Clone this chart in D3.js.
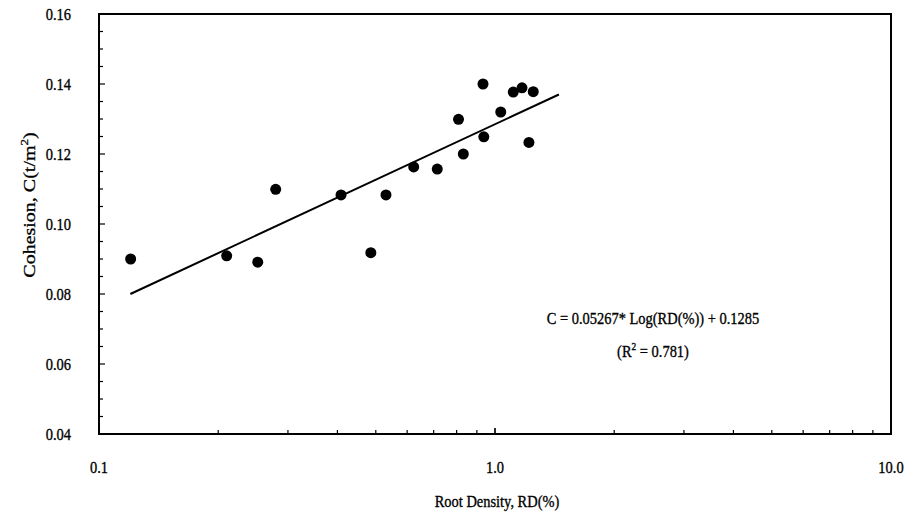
<!DOCTYPE html>
<html><head><meta charset="utf-8">
<script src="https://cdn.jsdelivr.net/npm/d3@7"></script>
<style>body{margin:0;background:#fff}text{font-family:"Liberation Serif","Times New Roman",serif;fill:#000;stroke:#000;stroke-width:0.35}</style>
</head><body><svg id="c" width="917" height="513"></svg>
<script>
const rootDensity = [0.1202,0.2101,0.2517,0.2794,0.4085,0.4858,0.5305,0.6233,0.7148,0.8088,0.8318,0.937,0.9326,1.034,1.112,1.170,1.218,1.249];
const cohesion    = [0.0900,0.0909,0.0891,0.1099,0.1083,0.0918,0.1083,0.1163,0.1157,0.1299,0.1200,0.1249,0.1400,0.1320,0.1377,0.1389,0.1233,0.1378];
const trendX = [0.12, 1.45];
const trendY = [0.0800, 0.1370];
const xTicks = [0.1, 1, 10];
const xTickLabels = ["0.1", "1.0", "10.0"];
const yTicks = [0.04, 0.06, 0.08, 0.10, 0.12, 0.14, 0.16];
const equationText = "C = 0.05267* Log(RD(%)) + 0.1285";

const svg = d3.select("#c");
const L=99, R=891, T=14, B=434;
const SX = 0.85; // condensed look of the scanned type
const x = d3.scaleLog().domain([0.1,10]).range([L,R]);
const y = d3.scaleLinear().domain([0.04,0.16]).range([B,T]);

function label(px, py, anchor, size){
  return svg.append("g").attr("transform",`translate(${px},${py}) scale(${SX},1)`)
    .append("text").attr("text-anchor",anchor).attr("font-size",size);
}

// frame
svg.append("rect").attr("x",L).attr("y",T).attr("width",R-L).attr("height",B-T)
  .attr("fill","none").attr("stroke","#000").attr("stroke-width",2);

// y ticks (inside)
const yMinor = d3.range(0.04,0.1601,0.005);
svg.append("g").selectAll("line").data(yMinor).join("line")
  .attr("x1",L).attr("x2",(d,i)=> i%4===0 ? L+6 : L+4)
  .attr("y1",d=>y(d)).attr("y2",d=>y(d)).attr("stroke","#000").attr("stroke-width",1.2);
yTicks.forEach(d=> label(71, y(d)+6, "end", 17).text(d3.format(".2f")(d)));

// x ticks (inside)
const xMinor = [];
[0.1,1].forEach(b=>{for(let k=1;k<=10;k++) xMinor.push(b*k);});
svg.append("g").selectAll("line").data(xMinor).join("line")
  .attr("x1",d=>x(d)).attr("x2",d=>x(d)).attr("y1",B).attr("y2",d=> Math.abs(Math.log10(d)%1)<1e-9 ? B-6 : B-4)
  .attr("stroke","#000").attr("stroke-width",1.2);
xTicks.forEach((d,i)=> label(x(d), 473, "middle", 17).text(xTickLabels[i]));

// axis titles
label(497, 507, "middle", 17).text("Root Density, RD(%)");
const yt = svg.append("g").attr("transform","translate(35,205) scale(0.85,1) rotate(-90)")
  .append("text").attr("text-anchor","middle").attr("font-size",20);
yt.append("tspan").text("Cohesion, C(t/m");
yt.append("tspan").attr("dy",-8).attr("font-size",13).text("2");
yt.append("tspan").attr("dy",8).text(")");

// trend line
svg.append("line").attr("x1",x(trendX[0])).attr("y1",y(trendY[0]))
  .attr("x2",x(trendX[1])).attr("y2",y(trendY[1])).attr("stroke","#000").attr("stroke-width",2);

// points
svg.append("g").selectAll("circle").data(rootDensity).join("circle")
  .attr("cx",d=>x(d)).attr("cy",(d,i)=>y(cohesion[i])).attr("r",5.5).attr("fill","#000");

// equation
label(653, 324, "middle", 17).text(equationText);
const r2 = label(653, 357, "middle", 17);
r2.append("tspan").text("(R");
r2.append("tspan").attr("dy",-7).attr("font-size",11).text("2");
r2.append("tspan").attr("dy",7).text(" = 0.781)");
</script></body></html>
